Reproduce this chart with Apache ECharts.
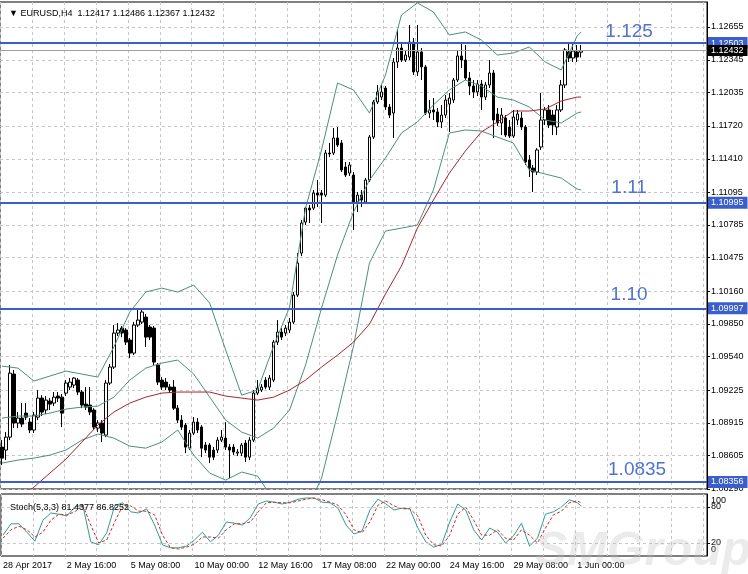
<!DOCTYPE html>
<html><head><meta charset="utf-8">
<script src="https://cdn.jsdelivr.net/npm/echarts@6/dist/echarts.min.js"></script>
<style>html,body{margin:0;padding:0;background:#fff;}#c{width:748px;height:574px;}</style>
</head><body><div id="c"></div>
<script>
const FONT = "'Liberation Sans', Arial, sans-serif";
const symbolName = 'EURUSD,H4';
const slotCount = 177;
const tickLabels = ['28 Apr 2017','2 May 16:00','5 May 08:00','10 May 00:00','12 May 16:00','17 May 08:00','22 May 00:00','24 May 16:00','29 May 08:00','1 Jun 00:00'];
const priceTicks = [1.08290,1.08605,1.08915,1.09225,1.09540,1.09850,1.10160,1.10475,1.10785,1.11095,1.11410,1.11720,1.12035,1.12345,1.12655];
const stochLevelTicks = [20,80];
const stochEdgeTicks = [0,100];
const levels = [1.12503,1.10995,1.09997,1.08356];
const bidPrice = 1.12432;
const annText = ['1.125','1.11','1.10','1.0835'];
const annBar = [157,157,157,159];
const annPrice = [1.12608,1.11138,1.10122,1.08469];
// [open, close, low, high]
const candles = [
[1.08686,1.08582,1.08516,1.08752],[1.08658,1.08780,1.08563,1.08828],[1.08780,1.09385,1.08752,1.09461],[1.09376,1.08913,1.08865,1.09414],
[1.08913,1.08960,1.08865,1.09017],[1.08960,1.08903,1.08875,1.09102],[1.09007,1.08969,1.08941,1.09102],[1.08922,1.08847,1.08818,1.08960],
[1.08847,1.08988,1.08818,1.09017],[1.08969,1.09149,1.08941,1.09225],[1.09149,1.09017,1.08979,1.09177],[1.09036,1.09130,1.08998,1.09168],
[1.09121,1.09092,1.09036,1.09149],[1.09102,1.09158,1.09073,1.09206],[1.09168,1.09149,1.09111,1.09206],[1.09158,1.09007,1.08875,1.09187],
[1.09196,1.09291,1.09168,1.09319],[1.09253,1.09300,1.09225,1.09338],[1.09272,1.09338,1.09243,1.09347],[1.09319,1.09206,1.09177,1.09338],
[1.09206,1.09083,1.09054,1.09225],[1.09092,1.09064,1.09036,1.09253],[1.09083,1.09017,1.08988,1.09253],[1.09036,1.08875,1.08847,1.09054],
[1.08865,1.08913,1.08828,1.08941],[1.08913,1.08818,1.08733,1.08941],[1.08799,1.09291,1.08780,1.09319],[1.09291,1.09442,1.09272,1.09470],
[1.09442,1.09763,1.09423,1.09839],[1.09763,1.09792,1.09735,1.09858],[1.09810,1.09763,1.09725,1.09829],[1.09792,1.09678,1.09650,1.09810],
[1.09697,1.09574,1.09527,1.09716],[1.09574,1.09839,1.09555,1.09867],[1.09839,1.09886,1.09820,1.09981],[1.09867,1.09962,1.09848,1.09990],
[1.09914,1.09725,1.09631,1.09943],[1.09820,1.09725,1.09697,1.09839],[1.09810,1.09489,1.09461,1.09829],[1.09461,1.09300,1.09272,1.09480],
[1.09319,1.09253,1.09225,1.09347],[1.09300,1.09253,1.09225,1.09338],[1.09253,1.09225,1.09196,1.09281],[1.09253,1.09054,1.09036,1.09319],
[1.09054,1.08941,1.08913,1.09083],[1.08941,1.08875,1.08847,1.08988],[1.08894,1.08686,1.08629,1.08913],[1.08676,1.08818,1.08658,1.08847],
[1.08818,1.08922,1.08799,1.08969],[1.08922,1.08847,1.08818,1.08960],[1.08875,1.08676,1.08591,1.08894],[1.08705,1.08658,1.08629,1.08733],
[1.08705,1.08591,1.08535,1.08724],[1.08658,1.08591,1.08563,1.08686],[1.08658,1.08752,1.08629,1.08780],[1.08752,1.08780,1.08733,1.08847],
[1.08771,1.08686,1.08658,1.08922],[1.08686,1.08658,1.08393,1.08714],[1.08686,1.08639,1.08610,1.08714],[1.08629,1.08639,1.08601,1.08667],
[1.08629,1.08705,1.08601,1.08724],[1.08724,1.08591,1.08544,1.08752],[1.08591,1.08752,1.08563,1.08780],[1.08752,1.09196,1.08733,1.09225],
[1.09196,1.09243,1.09177,1.09319],[1.09225,1.09253,1.09206,1.09281],[1.09319,1.09253,1.09234,1.09347],[1.09253,1.09338,1.09225,1.09366],
[1.09319,1.09678,1.09300,1.09697],[1.09678,1.09773,1.09650,1.09886],[1.09773,1.09725,1.09697,1.09810],[1.09763,1.09810,1.09735,1.09839],
[1.09792,1.09867,1.09763,1.09905],[1.09867,1.10122,1.09848,1.10151],[1.10122,1.10425,1.10103,1.10519],[1.10519,1.10803,1.10491,1.10831],
[1.10812,1.10944,1.10784,1.10954],[1.10944,1.10926,1.10803,1.10973],[1.10944,1.11086,1.10926,1.11115],[1.11086,1.11067,1.10954,1.11209],
[1.11086,1.11067,1.10803,1.11115],[1.11067,1.11464,1.11048,1.11493],[1.11464,1.11455,1.11426,1.11559],[1.11464,1.11606,1.11445,1.11700],
[1.11606,1.11540,1.11521,1.11710],[1.11559,1.11304,1.11285,1.11587],[1.11332,1.11256,1.11237,1.11379],[1.11275,1.11351,1.11247,1.11379],
[1.11256,1.11001,1.10737,1.11285],[1.11001,1.11067,1.10907,1.11096],[1.11067,1.11020,1.10954,1.11115],[1.11001,1.11209,1.10982,1.11228],
[1.11209,1.11615,1.11190,1.11634],[1.11615,1.11946,1.11596,1.11965],[1.11946,1.12041,1.11927,1.12107],[1.11993,1.12041,1.11965,1.12107],
[1.12078,1.11899,1.11871,1.12097],[1.11899,1.11823,1.11795,1.11927],[1.11842,1.12324,1.11606,1.12362],[1.12324,1.12456,1.12267,1.12627],
[1.12456,1.12343,1.12324,1.12513],[1.12343,1.12390,1.12324,1.12438],[1.12371,1.12513,1.12343,1.12674],[1.12513,1.12230,1.12201,1.12551],
[1.12230,1.12419,1.12192,1.12674],[1.12419,1.12277,1.12154,1.12456],[1.12277,1.11842,1.11823,1.12296],[1.11842,1.11871,1.11795,1.11965],
[1.11871,1.11852,1.11776,1.11984],[1.11852,1.11757,1.11710,1.11889],[1.11757,1.11823,1.11700,1.11918],[1.11823,1.11965,1.11795,1.12012],
[1.11927,1.11984,1.11663,1.12031],[1.11965,1.12154,1.11937,1.12173],[1.12154,1.12381,1.12135,1.12438],[1.12381,1.12343,1.12267,1.12504],
[1.12343,1.12173,1.12154,1.12485],[1.12173,1.12097,1.12012,1.12230],[1.12097,1.12041,1.11984,1.12154],[1.12041,1.12116,1.12003,1.12154],
[1.12116,1.11993,1.11871,1.12154],[1.11993,1.12107,1.11965,1.12135],[1.12107,1.12220,1.12078,1.12343],[1.12220,1.11776,1.11606,1.12249],
[1.11833,1.11748,1.11719,1.11889],[1.11748,1.11823,1.11634,1.11889],[1.11795,1.11634,1.11615,1.11823],[1.11710,1.11625,1.11606,1.11776],
[1.11625,1.11804,1.11606,1.11871],[1.11776,1.11833,1.11729,1.11871],[1.11795,1.11710,1.11682,1.11852],[1.11710,1.11379,1.11351,1.11729],
[1.11398,1.11322,1.11237,1.11445],[1.11322,1.11285,1.11096,1.11351],[1.11285,1.11493,1.11256,1.11511],[1.11521,1.11776,1.11493,1.12031],
[1.11776,1.11871,1.11729,1.11899],[1.11871,1.11729,1.11700,1.11918],[1.11823,1.11729,1.11634,1.11871],[1.11710,1.11871,1.11634,1.11918],
[1.11871,1.12107,1.11852,1.12154],[1.12107,1.12438,1.12078,1.12456],[1.12419,1.12362,1.12324,1.12504],[1.12362,1.12428,1.12324,1.12494],
[1.12419,1.12371,1.12324,1.12485],[1.12417,1.12432,1.12367,1.12486]
];
// indicator samples, read every 4th bar (plus the last bar)
const bandBars = [...Array(37).keys()].map(k => 4 * k).concat([145]);
const bbUpper = [1.09451,1.09432,1.09310,1.09357,1.09404,1.09376,1.09347,1.09631,1.09962,1.10151,1.10188,1.10151,1.10217,1.10047,1.09603,1.09177,1.09225,1.09640,1.10009,1.10944,1.11493,1.12126,1.12060,1.11842,1.12201,1.12768,1.12882,1.12797,1.12579,1.12608,1.12532,1.12390,1.12409,1.12466,1.12324,1.12249,1.12570,1.12608];
const bbMiddle = [1.08960,1.08979,1.08979,1.09007,1.09045,1.09064,1.09073,1.09158,1.09319,1.09432,1.09480,1.09508,1.09376,1.09158,1.08941,1.08828,1.08771,1.08865,1.09036,1.09461,1.09999,1.10500,1.10907,1.11209,1.11417,1.11653,1.11757,1.11918,1.12060,1.12154,1.12097,1.11993,1.11965,1.11899,1.11776,1.11748,1.11842,1.11852];
const bbLower = [1.08535,1.08563,1.08582,1.08610,1.08658,1.08752,1.08809,1.08771,1.08695,1.08676,1.08733,1.08847,1.08610,1.08440,1.08374,1.08450,1.08412,1.08185,1.07996,1.08072,1.08393,1.08998,1.09640,1.10425,1.10727,1.10755,1.10784,1.11115,1.11653,1.11682,1.11672,1.11615,1.11559,1.11304,1.11266,1.11228,1.11124,1.11115];
const movingAvg = [1.08072,1.08185,1.08308,1.08440,1.08572,1.08733,1.08894,1.09017,1.09102,1.09158,1.09196,1.09206,1.09206,1.09206,1.09168,1.09149,1.09130,1.09158,1.09225,1.09319,1.09442,1.09555,1.09678,1.09848,1.10132,1.10396,1.10755,1.11020,1.11275,1.11483,1.11663,1.11757,1.11861,1.11861,1.11880,1.11956,1.11993,1.11993];
// stochastic samples, read every 2nd bar (plus the last bar)
const stochBars = [...Array(73).keys()].map(k => 2 * k).concat([145]);
const stochMain = [33,52,52,38,23,58,70,68,65,80,83,22,17,37,82,87,72,70,77,50,17,12,12,15,25,38,22,33,55,53,50,62,85,90,88,85,88,93,95,95,88,87,78,50,35,40,75,93,85,75,78,77,45,22,13,18,55,85,75,42,25,45,38,20,32,53,15,28,68,72,80,92,87,81.4377];
const stochSignal = [28,42,48,42,30,38,58,68,67,72,83,50,20,25,55,82,82,73,73,67,33,12,10,13,18,30,30,28,42,52,52,55,72,87,88,87,87,90,93,95,92,88,83,67,42,37,55,83,90,82,77,77,65,33,17,15,33,68,80,58,33,33,42,28,25,42,33,20,45,67,73,87,90,86.8252];

const cats = Array.from({length: slotCount}, (_, i) => String(i));
const pairs = (bars, vals) => bars.map((b, k) => [b, vals[k]]);
const last = candles[candles.length - 1];
const f5 = v => v.toFixed(5);
const headText = '\u25BC ' + symbolName + '  ' + [last[0], last[3], last[2], last[1]].map(f5).join(' ');
const stochText = 'Stoch(5,3,3) ' + stochMain[stochMain.length - 1].toFixed(4) + ' ' + stochSignal[stochSignal.length - 1].toFixed(4);

const gridLine = {color: '#c6c6c6', type: [3, 3], width: 1};
const BLUE = '#3a5fcc';
const bandStyle = {color: '#4b8f7f', width: 1};
const lbl = {fontSize: 9, color: '#000', margin: 4, fontFamily: FONT};

const chart = echarts.init(document.getElementById('c'), null, {renderer: 'canvas'});
chart.setOption({
  animation: false,
  backgroundColor: '#fff',
  textStyle: {fontFamily: FONT},
  title: [
    {text: headText, left: 4, top: 4, textStyle: {fontSize: 9, fontWeight: 'normal', color: '#000', fontFamily: FONT}},
    {text: stochText, left: 5, top: 498, textStyle: {fontSize: 9, fontWeight: 'normal', color: '#000', fontFamily: FONT}}
  ],
  grid: [
    {left: 0, right: 41, top: 2, height: 487, show: true, borderColor: '#000', borderWidth: 1, backgroundColor: '#fff'},
    {left: 0, right: 41, top: 494, height: 62, show: true, borderColor: '#000', borderWidth: 1, backgroundColor: '#fff'}
  ],
  xAxis: [
    {type: 'category', gridIndex: 0, data: cats, boundaryGap: true,
     axisLine: {show: false}, axisTick: {show: false}, axisLabel: {show: false},
     splitLine: {show: true, interval: 7, lineStyle: gridLine}},
    {type: 'category', gridIndex: 1, data: cats, boundaryGap: true,
     axisLine: {show: false}, axisTick: {show: false},
     axisLabel: {show: true, interval: 15, align: 'left', margin: 5, fontSize: 9, color: '#000', fontFamily: FONT,
       formatter: (v, i) => tickLabels[i / 16] || ''},
     splitLine: {show: true, interval: 7, lineStyle: gridLine}}
  ],
  yAxis: [
    {type: 'value', gridIndex: 0, position: 'right', min: 1.08290, max: 1.12891, scale: true,
     axisLine: {show: true, lineStyle: {color: '#000', width: 1}},
     axisTick: {show: true, length: 3, customValues: priceTicks, lineStyle: {color: '#000'}},
     axisLabel: Object.assign({show: true, customValues: priceTicks, hideOverlap: false, formatter: v => v.toFixed(5)}, lbl),
     splitLine: {show: true, lineStyle: gridLine}},
    {type: 'value', gridIndex: 1, position: 'right', min: -1.6667, max: 101.6667,
     axisLine: {show: true, lineStyle: {color: '#000', width: 1}},
     axisTick: {show: true, length: 3, customValues: stochLevelTicks, lineStyle: {color: '#000'}},
     axisLabel: Object.assign({show: true, customValues: stochLevelTicks, formatter: v => String(v)}, lbl),
     splitLine: {show: false}},
    {type: 'value', gridIndex: 1, position: 'right', min: -1.6667, max: 101.6667,
     axisLine: {show: false}, axisTick: {show: false},
     axisLabel: Object.assign({show: true, customValues: stochEdgeTicks, showMinLabel: true, showMaxLabel: true,
       formatter: v => v === 100 ? '{t|100}' : '{b|0}',
       rich: {t: {padding: [12, 0, 0, 0], fontSize: 9, fontFamily: FONT}, b: {padding: [0, 0, 10, 0], fontSize: 9, fontFamily: FONT}}}, lbl),
     splitLine: {show: false}}
  ],
  series: [
    {type: 'candlestick', xAxisIndex: 0, yAxisIndex: 0, data: candles, barWidth: 3, z: 3,
     itemStyle: {color: '#ffffff', color0: '#000000', borderColor: '#000000', borderColor0: '#000000', borderWidth: 1},
     markLine: {silent: true, precision: 5, symbol: ['none', 'none'], animation: false,
       data: levels.map(v => ({yAxis: v, lineStyle: {color: BLUE, width: 2, type: 'solid'},
         label: {show: true, position: 'end', distance: 1, formatter: f5(v), backgroundColor: BLUE, color: '#fff', fontSize: 9, fontFamily: FONT, padding: [2, 4, 1, 3]}}))
         .concat([{yAxis: bidPrice, lineStyle: {color: '#a0a0a0', width: 1, type: 'solid'},
         label: {show: true, position: 'end', distance: 1, formatter: f5(bidPrice), backgroundColor: '#000', color: '#fff', fontSize: 9, fontFamily: FONT, padding: [1, 4, 1, 3]}}])},
     markPoint: {silent: true, animation: false, symbol: 'circle', symbolSize: 1, itemStyle: {color: 'rgba(0,0,0,0)'},
       label: {show: true, position: 'inside', formatter: '{b}', fontSize: 19, color: '#4e73d3', fontFamily: FONT},
       data: annText.map((t, k) => ({name: t, coord: [annBar[k], annPrice[k]]}))}},
    {type: 'line', name: 'BB upper', xAxisIndex: 0, yAxisIndex: 0, data: pairs(bandBars, bbUpper), showSymbol: false, lineStyle: bandStyle, z: 4},
    {type: 'line', name: 'BB middle', xAxisIndex: 0, yAxisIndex: 0, data: pairs(bandBars, bbMiddle), showSymbol: false, lineStyle: bandStyle, z: 4},
    {type: 'line', name: 'BB lower', xAxisIndex: 0, yAxisIndex: 0, data: pairs(bandBars, bbLower), showSymbol: false, lineStyle: bandStyle, z: 4},
    {type: 'line', name: 'MA', xAxisIndex: 0, yAxisIndex: 0, data: pairs(bandBars, movingAvg), showSymbol: false, lineStyle: {color: '#a8242c', width: 1}, z: 4},
    {type: 'line', name: 'Stoch main', xAxisIndex: 1, yAxisIndex: 1, data: pairs(stochBars, stochMain), showSymbol: false, lineStyle: {color: '#2e9e94', width: 1}, z: 4,
     markLine: {silent: true, symbol: ['none', 'none'], label: {show: false}, lineStyle: gridLine, data: [{yAxis: 20}, {yAxis: 80}]}},
    {type: 'line', name: 'Stoch signal', xAxisIndex: 1, yAxisIndex: 1, data: pairs(stochBars, stochSignal), showSymbol: false, lineStyle: {color: '#d22a2a', width: 1, type: [3, 2]}, z: 4}
  ],
  graphic: [
    {type: 'text', left: 535, top: 528, silent: true, z: 100,
     style: {text: 'SMGroup', font: 'italic bold 48px ' + FONT, fill: 'rgba(190,190,190,0.3)'}}
  ]
});
</script>
</body></html>
